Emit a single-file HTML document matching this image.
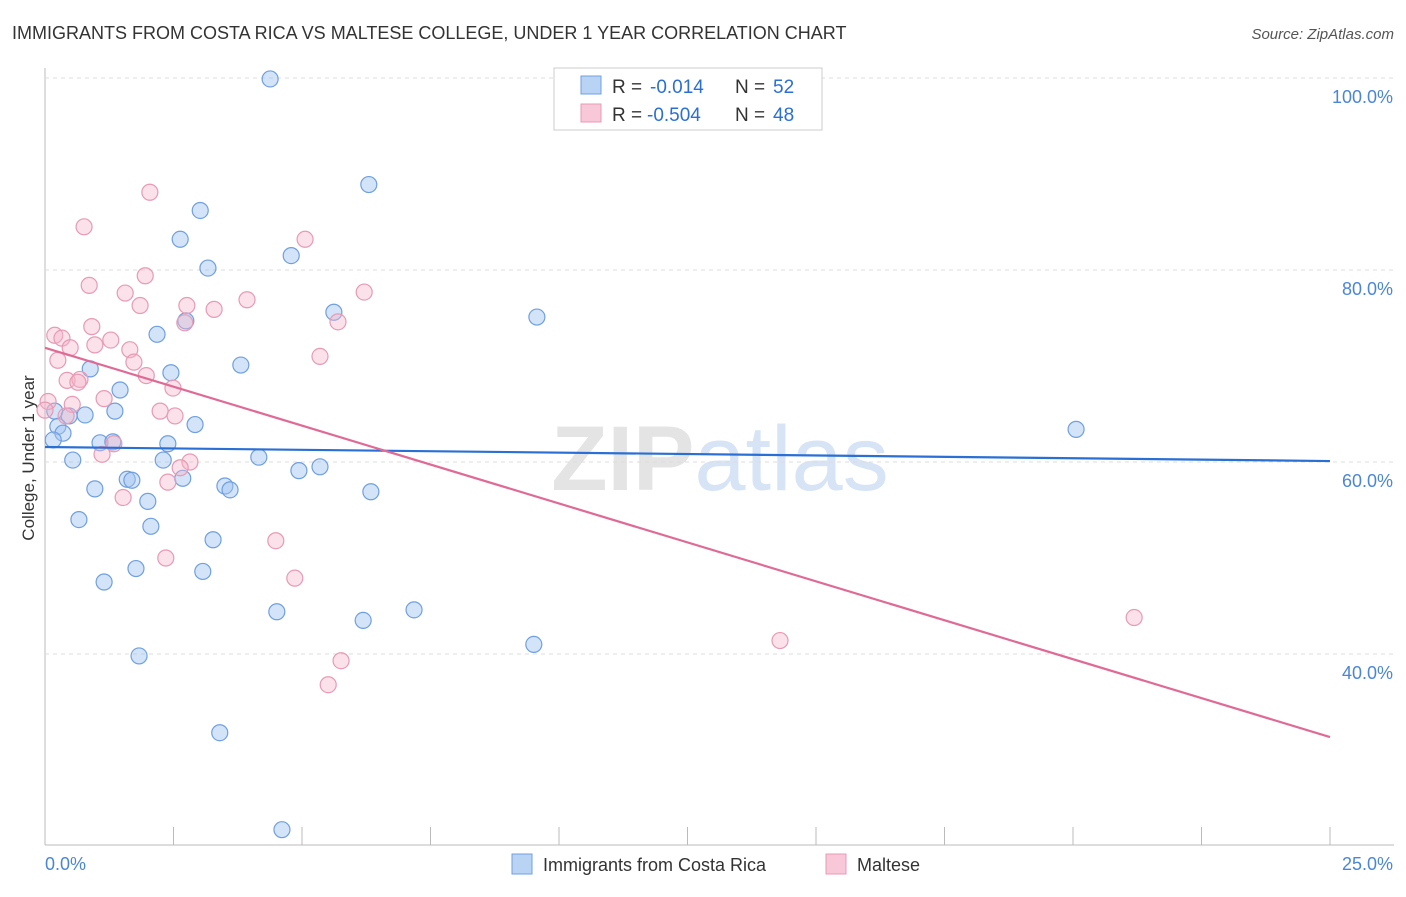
<!DOCTYPE html>
<html><head><meta charset="utf-8"><style>
body{margin:0;background:#fff;font-family:"Liberation Sans",sans-serif;}
svg text{font-family:"Liberation Sans",sans-serif;}
</style></head><body>
<svg id="chart" width="1406" height="892">
<text x="12" y="39" font-size="18" fill="#333">IMMIGRANTS FROM COSTA RICA VS MALTESE COLLEGE, UNDER 1 YEAR CORRELATION CHART</text>
<text x="1394" y="39" font-size="15" fill="#555" font-style="italic" text-anchor="end">Source: ZipAtlas.com</text>
<text x="720" y="490" font-size="92" fill="#e4e4e4" text-anchor="middle" font-weight="bold">ZIP<tspan fill="#d6e4f6" font-weight="normal">atlas</tspan></text>
<text x="34" y="458" font-size="17" fill="#333" transform="rotate(-90 34 458)" text-anchor="middle">College, Under 1 year</text>
<g id="grid"></g><g id="marks"></g>
<g>
<rect x="554" y="68" width="268" height="62" fill="#fff" stroke="#ccc"/>
<rect x="581" y="76" width="20" height="18" fill="#b9d3f4" stroke="#6f9fe0"/>
<rect x="581" y="104" width="20" height="18" fill="#f8c8d8" stroke="#e89ab4"/>
<text x="612" y="93" font-size="19" fill="#333">R =</text>
<text x="650" y="93" font-size="19" fill="#2a6fd6">-0.014</text>
<text x="735" y="93" font-size="19" fill="#333">N =</text>
<text x="773" y="93" font-size="19" fill="#2a6fd6">52</text>
<text x="612" y="121" font-size="19" fill="#333">R =</text>
<text x="647" y="121" font-size="19" fill="#2a6fd6">-0.504</text>
<text x="735" y="121" font-size="19" fill="#333">N =</text>
<text x="773" y="121" font-size="19" fill="#2a6fd6">48</text>
</g>
<g>
<rect x="512" y="854" width="20" height="20" fill="#b9d3f4" stroke="#6f9fe0"/>
<text x="543" y="871" font-size="18" fill="#333">Immigrants from Costa Rica</text>
<rect x="826" y="854" width="20" height="20" fill="#f8c8d8" stroke="#e89ab4"/>
<text x="857" y="871" font-size="18" fill="#333">Maltese</text>
</g>
</svg>
<script>
const xTicks=[0,2.5,5,7.5,10,12.5,15,17.5,20,22.5,25];
const yTicks=[40,60,80,100];
const yTickLabels=["40.0%","60.0%","80.0%","100.0%"];
const blueX=[4.38,6.30,3.02,2.63,4.79,3.17,5.62,9.57,2.18,2.74,3.81,0.88,2.45,1.46,0.19,0.47,0.78,1.36,2.92,0.25,0.35,0.16,1.07,1.32,2.39,0.54,2.30,4.16,4.94,5.35,1.60,1.69,2.68,0.97,3.50,3.60,6.34,2.00,0.66,2.06,3.27,1.77,3.07,1.15,4.51,7.18,6.19,9.51,1.83,3.40,4.61,20.06];
const blueY=[99.9,88.9,86.2,83.2,81.5,80.2,75.6,75.1,73.3,74.7,70.1,69.7,69.3,67.5,65.3,64.8,64.9,65.3,63.9,63.7,63.0,62.3,62.0,62.1,61.9,60.2,60.2,60.5,59.1,59.5,58.2,58.1,58.3,57.2,57.5,57.1,56.9,55.9,54.0,53.3,51.9,48.9,48.6,47.5,44.4,44.6,43.5,41.0,39.8,31.8,21.7,63.4];
const pinkX=[2.04,0.76,5.06,1.95,0.86,1.56,3.93,1.85,2.76,3.29,6.21,2.72,5.70,0.91,0.19,0.33,1.28,0.49,0.97,1.65,5.35,1.73,0.25,1.97,0.43,0.68,0.64,2.49,1.15,0.53,2.24,2.53,1.34,1.11,2.82,2.63,2.39,1.52,2.35,4.49,4.86,5.76,5.51,21.19,14.30,0.06,0.0,0.41];
const pinkY=[88.1,84.5,83.2,79.4,78.4,77.6,76.9,76.3,76.3,75.9,77.7,74.5,74.6,74.1,73.2,72.9,72.7,71.9,72.2,71.7,71.0,70.4,70.6,69.0,68.5,68.6,68.3,67.7,66.6,66.0,65.3,64.8,61.9,60.8,60.0,59.4,57.9,56.3,50.0,51.8,47.9,39.3,36.8,43.8,41.4,66.3,65.4,64.8];
const blueTrend=[61.56,60.1];
const pinkTrend=[71.9,31.35];
const NS="http://www.w3.org/2000/svg";
const sx=v=>45+v*51.4, sy=v=>78+(100-v)*9.6;
const grid=document.getElementById('grid'), marks=document.getElementById('marks');
function mk(t,a,p){const e=document.createElementNS(NS,t);for(const k in a)e.setAttribute(k,a[k]);p.appendChild(e);return e;}
let ax=mk('line',{x1:45,y1:68,x2:45,y2:845,stroke:'#bbb'},grid);


let bx=mk('line',{x1:45,y1:845,x2:1394,y2:845,stroke:'#bbb'},grid);


yTicks.forEach((v,i)=>{
 let g=mk('line',{x1:45,y1:sy(v),x2:1394,y2:sy(v),stroke:'#ddd','stroke-dasharray':'4,4'},grid);
 
 
 let t=mk('text',{x:1393,y:sy(v)+25,'font-size':18,fill:'#4a86d8','text-anchor':'end'},grid);t.textContent=yTickLabels[i];
 
 
});
xTicks.forEach(v=>{let l=mk('line',{x1:sx(v),y1:827,x2:sx(v),y2:845,stroke:'#bbb'},grid);
 
 });
[[0,"0.0%",45,'start'],[25,"25.0%",1393,'end']].forEach(a=>{let t=mk('text',{x:a[2],y:870,'font-size':18,fill:'#4a86d8','text-anchor':a[3]},grid);t.textContent=a[1];
 
 });
function pts(X,Y,fill,stroke,name){X.forEach((x,i)=>{let c=mk('circle',{cx:sx(x),cy:sy(Y[i]),r:8,fill:fill,stroke:stroke,'stroke-width':1.2},marks);
 
 });}
pts(blueX,blueY,'rgba(160,196,240,0.45)','#6f9fe0','point-costa-rica');
pts(pinkX,pinkY,'rgba(245,180,200,0.4)','#e89ab4','point-maltese');
let l1=mk('line',{x1:sx(0),y1:sy(blueTrend[0]),x2:sx(25),y2:sy(blueTrend[1]),stroke:'#2a6fd6','stroke-width':2.2},marks);


let l2=mk('line',{x1:sx(0),y1:sy(pinkTrend[0]),x2:sx(25),y2:sy(pinkTrend[1]),stroke:'#e06a96','stroke-width':2.2},marks);


</script>
</body></html>
